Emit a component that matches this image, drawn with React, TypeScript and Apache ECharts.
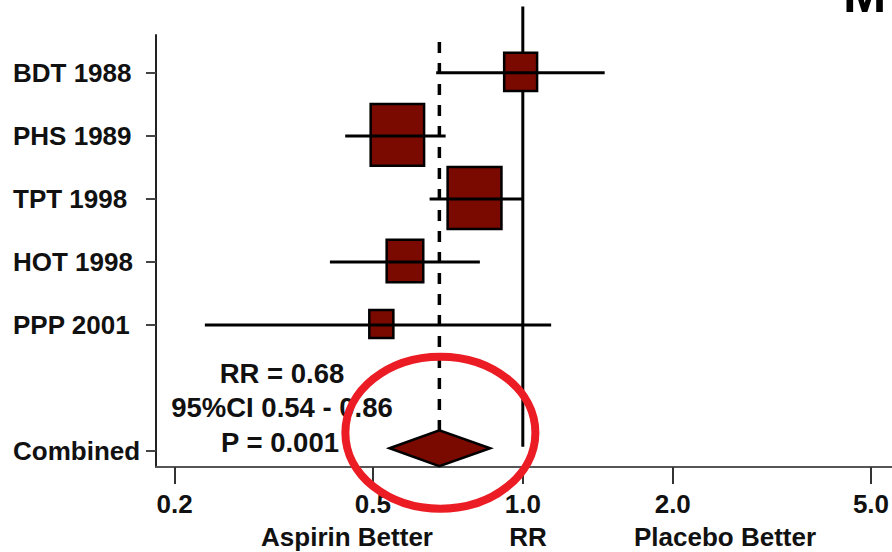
import React, { useEffect, useRef } from 'react';
import * as echarts from 'echarts';

// ---- data ----
const STUDIES = ['BDT 1988', 'PHS 1989', 'TPT 1998', 'HOT 1998', 'PPP 2001'];
const RR = [0.99, 0.56, 0.8, 0.58, 0.52];
const CI_LOW = [0.67, 0.44, 0.65, 0.41, 0.23];
const CI_HIGH = [1.46, 0.7, 1.0, 0.82, 1.14];
const WEIGHTS = [12.8, 31.9, 32.4, 15.6, 7.2];
const COMBINED_LABEL = 'Combined';
const COMBINED_RR = 0.68;
const COMBINED_LOW = 0.54;
const COMBINED_HIGH = 0.86;
const P_VALUE = '0.001';
const NULL_RR = 1.0;
const X_TICKS = [0.2, 0.5, 1.0, 2.0, 5.0];
const X_TICK_LABELS = ['0.2', '0.5', '1.0', '2.0', '5.0'];
const AXIS_TEXTS = ['Aspirin Better', 'RR', 'Placebo Better'];
const TITLE_TEXT = 'M';

const FONT = '"Liberation Sans", Arial, Helvetica, sans-serif';
const lg = (v: number) => Math.log10(v);
const ROW_LABELS = [...STUDIES, '', COMBINED_LABEL];
const COMBINED_ROW = ROW_LABELS.length - 1;
const ROW_TICKS = ROW_LABELS.map((l, i) => (l ? i : -1)).filter((i) => i >= 0);
const X_TICK_VALUES = X_TICKS.map(lg);

function xLabel(v: number) {
  let best = 0;
  X_TICK_VALUES.forEach((t, i) => {
    if (Math.abs(t - v) < Math.abs(X_TICK_VALUES[best] - v)) best = i;
  });
  return X_TICK_LABELS[best];
}

const textStyle = (text: string, x: number, y: number, size = 26) => ({
  type: 'text',
  x,
  y,
  z: 50,
  style: {
    text,
    fill: '#111',
    fontSize: size,
    fontWeight: 'bold',
    fontFamily: FONT,
    align: 'center',
    verticalAlign: 'middle',
  },
});

export default function App() {
  const ref = useRef<HTMLDivElement>(null);
  useEffect(() => {
    if (!ref.current) return;
    const chart = echarts.init(ref.current, null, { renderer: 'svg' });
    const option: any = {
      animation: false,
      grid: { left: 156, right: 0, top: 35, bottom: 85, outerBoundsMode: 'none' },
      xAxis: {
        type: 'value',
        min: lg(0.1835),
        max: lg(5.51),
        axisLine: { show: true, onZero: false, lineStyle: { color: '#555', width: 2 } },
        axisTick: { show: true, length: 17, customValues: X_TICK_VALUES, lineStyle: { color: '#333', width: 2 } },
        axisLabel: {
          customValues: X_TICK_VALUES,
          formatter: (v: number) => xLabel(v),
          margin: 24,
          color: '#111',
          fontSize: 26,
          fontWeight: 'bold',
          fontFamily: FONT,
        },
        splitLine: { show: false },
      },
      yAxis: {
        type: 'value',
        inverse: true,
        min: -0.6,
        max: 6.25,
        axisLine: { show: true, onZero: false, lineStyle: { color: '#222', width: 2 } },
        axisTick: { show: true, length: 10, customValues: ROW_TICKS, lineStyle: { color: '#444', width: 2 } },
        axisLabel: {
          customValues: ROW_TICKS,
          formatter: (v: number) => ROW_LABELS[Math.round(v)] || '',
          align: 'left',
          margin: 143,
          color: '#111',
          fontSize: 26,
          fontWeight: 'bold',
          fontFamily: FONT,
        },
        splitLine: { show: false },
      },
      series: [
        {
          type: 'custom',
          name: 'reference',
          z: 1,
          encode: { x: 0, y: 1 },
          data: [
            [lg(NULL_RR), 0],
            [lg(COMBINED_RR), 1],
          ],
          renderItem: (params: any, api: any) => {
            const kind = api.value(1);
            const x = api.coord([api.value(0), 0])[0];
            if (kind === 0) {
              const top = api.coord([0, -1.05])[1];
              const bottom = api.coord([0, 5.93])[1];
              return {
                type: 'line',
                shape: { x1: x, y1: top, x2: x, y2: bottom },
                style: { stroke: '#000', lineWidth: 3 },
              };
            }
            const top = api.coord([0, -0.49])[1];
            const bottom = api.coord([0, COMBINED_ROW])[1] - 21;
            return {
              type: 'line',
              shape: { x1: x, y1: top, x2: x, y2: bottom },
              style: { stroke: '#000', lineWidth: 3.5, lineDash: [11, 10] },
            };
          },
        },
        {
          type: 'custom',
          name: 'studies',
          z: 3,
          encode: { x: [0, 2, 3], y: 1 },
          data: STUDIES.map((_, i) => [lg(RR[i]), i, lg(CI_LOW[i]), lg(CI_HIGH[i]), WEIGHTS[i]]),
          renderItem: (params: any, api: any) => {
            const c = api.coord([api.value(0), api.value(1)]);
            const lo = api.coord([api.value(2), api.value(1)])[0];
            const hi = api.coord([api.value(3), api.value(1)])[0];
            const s = Math.sqrt(api.value(4));
            const w = 9.9 * s - 2.5;
            const h = 11.35 * s - 2.5;
            return {
              type: 'group',
              children: [
                {
                  type: 'rect',
                  shape: { x: c[0] - w / 2, y: c[1] - 1 - h / 2, width: w, height: h },
                  style: { fill: '#7a0a00', stroke: '#000', lineWidth: 2.5 },
                },
                {
                  type: 'line',
                  shape: { x1: lo, y1: c[1], x2: hi, y2: c[1] },
                  style: { stroke: '#000', lineWidth: 3 },
                },
              ],
            };
          },
        },
        {
          type: 'custom',
          name: 'combined',
          z: 3,
          encode: { x: [0, 2, 3], y: 1 },
          data: [[lg(COMBINED_RR), COMBINED_ROW, lg(COMBINED_LOW), lg(COMBINED_HIGH)]],
          renderItem: (params: any, api: any) => {
            const c = api.coord([api.value(0), api.value(1)]);
            const lo = api.coord([api.value(2), api.value(1)])[0];
            const hi = api.coord([api.value(3), api.value(1)])[0];
            const cy = c[1] - 3;
            const hh = 18;
            return {
              type: 'polygon',
              shape: { points: [[lo, cy], [c[0], cy - hh], [hi, cy], [c[0], cy + hh]] },
              style: { fill: '#7a0a00', stroke: '#000', lineWidth: 2.5 },
            };
          },
        },
      ],
    };
    chart.setOption(option);

    const [ex, ey] = chart.convertToPixel({ gridIndex: 0 }, [lg(COMBINED_RR), COMBINED_ROW]) as number[];
    chart.setOption({
      graphic: [
        textStyle(`RR = ${COMBINED_RR.toFixed(2)}`, 282, 373, 27.5),
        textStyle(`95%CI ${COMBINED_LOW.toFixed(2)} - ${COMBINED_HIGH.toFixed(2)}`, 282, 407.5, 27.5),
        textStyle(`P = ${P_VALUE}`, 280, 442, 27.5),
        textStyle(AXIS_TEXTS[0], 347, 537),
        textStyle(AXIS_TEXTS[1], 528, 537),
        textStyle(AXIS_TEXTS[2], 725, 537),
        {
          type: 'text',
          x: 843,
          y: -6,
          z: 50,
          style: {
            text: TITLE_TEXT,
            fill: '#000',
            fontSize: 52,
            fontWeight: 'bold',
            fontFamily: FONT,
            align: 'left',
            verticalAlign: 'middle',
          },
        },
        {
          type: 'ellipse',
          z: 100,
          shape: { cx: ex + 1, cy: ey - 18.5, rx: 95, ry: 76 },
          style: { fill: 'none', stroke: '#ec1c24', lineWidth: 8 },
        },
      ],
    });
    return () => chart.dispose();
  }, []);
  return (
    <div
      ref={ref}
      style={{ position: 'fixed', left: 0, top: 0, width: 892, height: 552, background: '#fff' }}
    />
  );
}
